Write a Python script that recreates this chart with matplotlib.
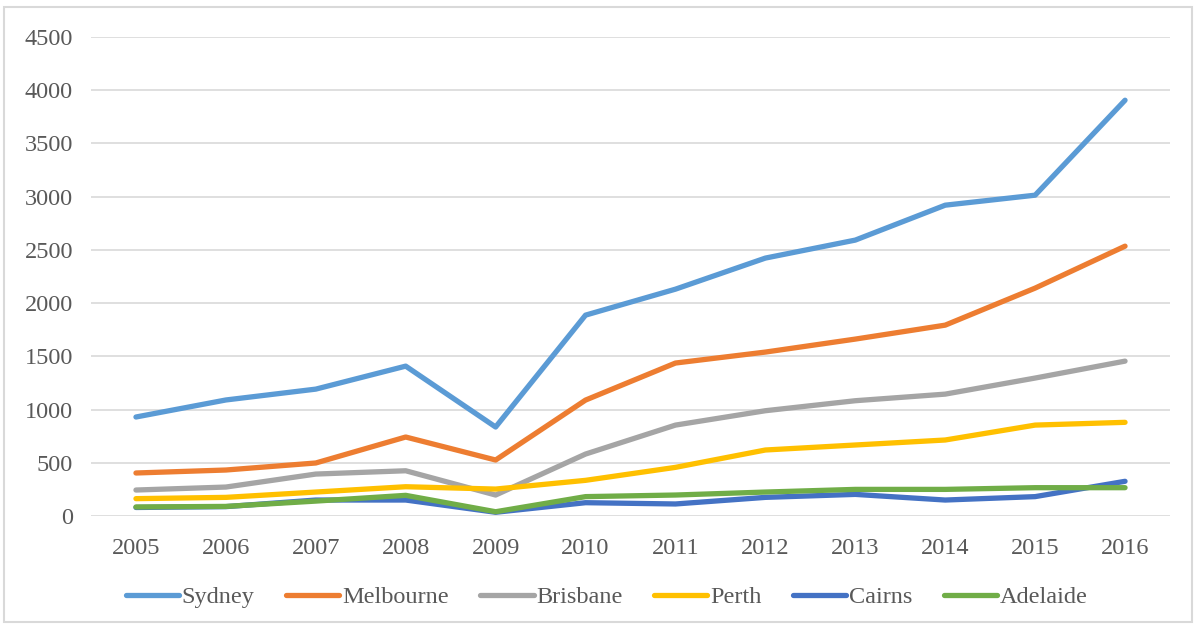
import matplotlib
matplotlib.use("Agg")
import matplotlib.pyplot as plt
from matplotlib.patches import Rectangle

years = [2005, 2006, 2007, 2008, 2009, 2010, 2011, 2012, 2013, 2014, 2015, 2016]
sydney = [930, 1090, 1192, 1408, 836, 1887, 2131, 2423, 2592, 2920, 3014, 3906]
melbourne = [404, 432, 498, 742, 526, 1089, 1437, 1540, 1662, 1793, 2141, 2535]
brisbane = [244, 272, 394, 425, 197, 582, 854, 989, 1083, 1145, 1296, 1455]
perth = [163, 175, 225, 275, 253, 335, 457, 620, 667, 714, 854, 880]
cairns = [80, 88, 150, 150, 35, 125, 113, 175, 203, 150, 182, 326]
adelaide = [85, 90, 140, 194, 40, 182, 197, 225, 250, 250, 266, 266]

series = [
    ("Sydney", sydney, "#5B9BD5"),
    ("Melbourne", melbourne, "#ED7D31"),
    ("Brisbane", brisbane, "#A5A5A5"),
    ("Perth", perth, "#FFC000"),
    ("Cairns", cairns, "#4472C4"),
    ("Adelaide", adelaide, "#70AD47"),
]

plt.rcParams['font.family'] = ['Liberation Serif', 'DejaVu Serif']

fig = plt.figure(figsize=(11.97, 6.27), dpi=100)
ax = fig.add_axes([91/1197, 1-516/627, (1170-91)/1197, (516-37)/627])

for name, vals, col in series:
    ax.plot(years, vals, color=col, lw=3.8, solid_capstyle='round', solid_joinstyle='round', label=name)

ax.set_xlim(2004.5, 2016.5)
ax.set_ylim(0, 4500)
ax.set_yticks(range(0, 4501, 500))
ax.set_xticks(years)
ax.grid(axis='y', color='#D9D9D9', lw=1.2)
ax.set_axisbelow(True)
for s in ax.spines.values():
    s.set_visible(False)
ax.tick_params(axis='both', length=0, labelsize=17.5, labelcolor='#595959')
ax.tick_params(axis='y', pad=13)
ax.tick_params(axis='x', pad=16)

leg = fig.legend(loc='center', bbox_to_anchor=(0.5 + 8/1197, 1-597/627), ncol=6, frameon=False,
                 fontsize=17.5, handlelength=2.2, columnspacing=1.3, handletextpad=0.1)
for t in leg.get_texts():
    t.set_color('#595959')

fig.add_artist(Rectangle((4/1197, 5/627), 1188/1197, 615/627, transform=fig.transFigure,
                         fill=False, edgecolor='#D9D9D9', lw=1.5))

fig.savefig("out.png", dpi=100)
